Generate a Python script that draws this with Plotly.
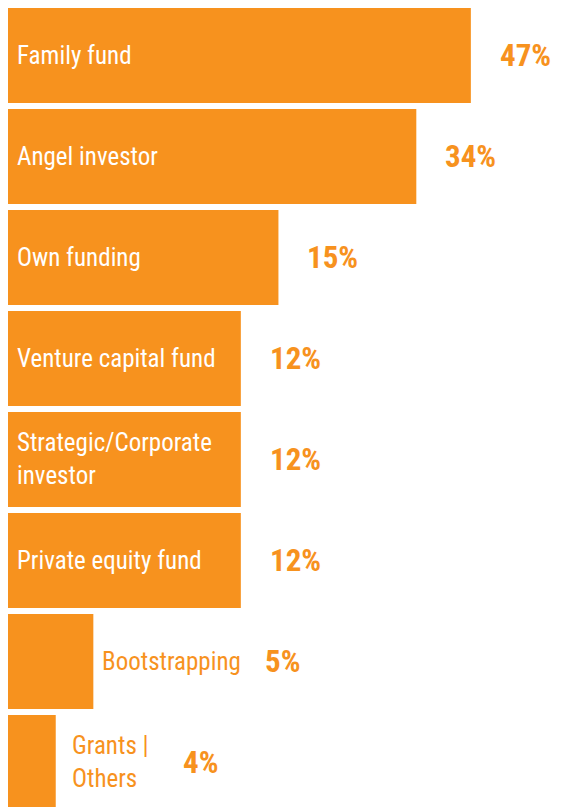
import numpy as np
import plotly.graph_objects as go

# funding sources, share of respondents (%)
labels = ["Family fund", "Angel investor", "Own funding", "Venture capital fund",
          "Strategic/Corporate<br>investor", "Private equity fund",
          "Bootstrapping", "Grants |<br>Others"]
values = [47, 34, 15, 12, 12, 12, 5, 4]
pct_text = ["47%", "34%", "15%", "12%", "12%", "12%", "5%", "4%"]

ORANGE = "#F7921E"
FONT = "Roboto Condensed, Liberation Sans Narrow, Arial Narrow, Roboto, sans-serif"

fig = go.Figure(go.Bar(
    x=values, y=labels, orientation="h",
    marker=dict(color=ORANGE, line_width=0),
    hoverinfo="skip",
))

# label layout: inside the bar when it fits, otherwise just right of it
outside = {"Bootstrapping": (7, 170), "Grants |<br>Others": (14, 125)}

annotations = []
for lab, v, t in zip(labels, values, pct_text):
    if lab in outside:
        lab_shift, pct_shift = outside[lab]
        annotations.append(dict(
            x=np.log10(v), y=lab, xref="x", yref="y", text=lab,
            xanchor="left", yanchor="middle", xshift=lab_shift, align="left",
            showarrow=False, font=dict(family=FONT, size=25, color=ORANGE)))
    else:
        pct_shift = 27
        annotations.append(dict(
            x=0, y=lab, xref="paper", yref="y", text=lab,
            xanchor="left", yanchor="middle", xshift=7, align="left",
            showarrow=False, font=dict(family=FONT, size=25, color="white")))
    annotations.append(dict(
        x=np.log10(v), y=lab, xref="x", yref="y",
        text="<b>" + t + "</b>", xanchor="left", yanchor="middle",
        xshift=pct_shift, showarrow=False,
        font=dict(family=FONT, size=31, color=ORANGE)))

fig.update_layout(
    width=573, height=807,
    margin=dict(l=0, r=0, t=0, b=0),
    paper_bgcolor="white", plot_bgcolor="white",
    bargap=0.06, showlegend=False,
    annotations=annotations,
    xaxis=dict(type="log", range=[0.479, 1.956], visible=False, fixedrange=True),
    yaxis=dict(range=[7.52, -0.47], visible=False, fixedrange=True),
)

fig.write_html("out.html", config={"displayModeBar": False})
